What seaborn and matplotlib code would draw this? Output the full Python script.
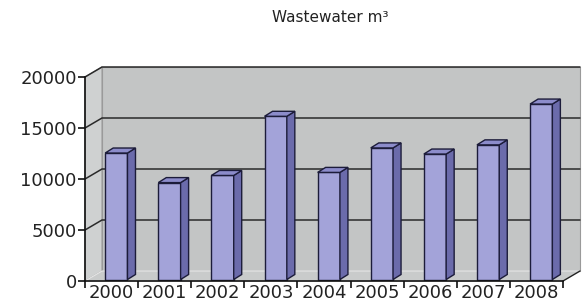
import matplotlib
matplotlib.use("Agg")
import matplotlib.pyplot as plt
from matplotlib.patches import Polygon
import pandas as pd
import seaborn as sns

# data
years = ['2000', '2001', '2002', '2003', '2004', '2005', '2006', '2007', '2008']
wastewater = [12400, 9500, 10200, 16000, 10500, 12900, 12300, 13200, 17200]
y_ticks = [0, 5000, 10000, 15000, 20000]
title = 'Wastewater m³'

df = pd.DataFrame({'year': years, 'value': wastewater})

sns.set_style('white')
plt.rcParams['font.family'] = ['DejaVu Sans']

fig = plt.figure(figsize=(5.82, 3.08), dpi=100)
ax = fig.add_axes([85 / 582, 27 / 308, 478 / 582, 204 / 308])
ax.set_xlim(-0.5, 8.5)
ax.set_ylim(0, 20000)

# pixel -> data conversions for the pseudo 3D depth
px_x = 9 / 478
px_y = 20000 / 204
wall_dx, wall_dy = 17 * px_x, 10 * px_y
bar_dx, bar_dy = 8 * px_x, 5 * px_y

wall_col = '#c3c5c5'
side_col = '#cfd1d1'
floor_col = '#c9cbcb'

# back wall
ax.add_patch(Polygon([(-0.5 + wall_dx, wall_dy), (8.5 + wall_dx, wall_dy),
                      (8.5 + wall_dx, 20000 + wall_dy), (-0.5 + wall_dx, 20000 + wall_dy)],
                     closed=True, facecolor=wall_col, edgecolor='#9a9a9a', lw=0.8,
                     clip_on=False, zorder=0))
# side wall
ax.add_patch(Polygon([(-0.5, 0), (-0.5 + wall_dx, wall_dy),
                      (-0.5 + wall_dx, 20000 + wall_dy), (-0.5, 20000)],
                     closed=True, facecolor=side_col, edgecolor='#9a9a9a', lw=0.8,
                     clip_on=False, zorder=0))
# floor
ax.add_patch(Polygon([(-0.5, 0), (8.5, 0), (8.5 + wall_dx, wall_dy), (-0.5 + wall_dx, wall_dy)],
                     closed=True, facecolor=floor_col, edgecolor='#e6e6e6', lw=0.8,
                     clip_on=False, zorder=0))
ax.plot([8.5, 8.5 + wall_dx], [0, wall_dy], color='#222222', lw=1, clip_on=False, zorder=1)

# gridlines on side + back wall
for v in y_ticks[1:]:
    ax.plot([-0.5, -0.5 + wall_dx, 8.5 + wall_dx], [v, v + wall_dy, v + wall_dy],
            color='#2a2a2a', lw=1.1, clip_on=False, zorder=1)

sns.barplot(data=df, x='year', y='value', color='#a3a3d9', width=0.42,
            edgecolor='#1c1c3a', linewidth=1.0, saturation=1, ax=ax, zorder=3)

b = 1.5 * px_y
for p in ax.containers[0]:
    x0 = p.get_x() + 0.09
    p.set_x(x0)
    p.set_y(b)
    w = p.get_width()
    h = p.get_height()
    x1 = x0 + w
    top = b + h
    ax.add_patch(Polygon([(x1, b), (x1 + bar_dx, b + bar_dy), (x1 + bar_dx, top + bar_dy), (x1, top)],
                         closed=True, facecolor='#6b6bab', edgecolor='#1c1c3a', lw=1.0,
                         clip_on=False, zorder=3))
    ax.add_patch(Polygon([(x0, top), (x1, top), (x1 + bar_dx, top + bar_dy), (x0 + bar_dx, top + bar_dy)],
                         closed=True, facecolor='#8c8ccb', edgecolor='#1c1c3a', lw=1.0,
                         clip_on=False, zorder=3))

# axes styling
for s in ['top', 'right']:
    ax.spines[s].set_visible(False)
for s in ['left', 'bottom']:
    ax.spines[s].set_color('#111111')
    ax.spines[s].set_linewidth(1.2)
    ax.spines[s].set_zorder(4)
ax.set_facecolor('none')
ax.set_xlabel('')
ax.set_ylabel('')
ax.set_xlim(-0.5, 8.5)
ax.set_ylim(0, 20000)
ax.set_yticks(y_ticks)
ax.set_yticklabels([str(t) for t in y_ticks])
ax.set_xticks(range(len(years)))
ax.set_xticklabels(years)
ax.set_xticks([i - 0.5 for i in range(len(years) + 1)], minor=True)
ax.tick_params(axis='y', which='major', length=5, width=1.2, color='#111111',
               labelsize=13, pad=1, labelcolor='#222222', left=True)
ax.tick_params(axis='x', which='major', length=0, labelsize=13, pad=2, labelcolor='#222222')
ax.tick_params(axis='x', which='minor', length=5, width=1.2, color='#111111', bottom=True)

fig.text(330 / 582, 1 - 18 / 308, title, ha='center', va='center', fontsize=11, color='#222222')

fig.savefig('out.png', dpi=100)
